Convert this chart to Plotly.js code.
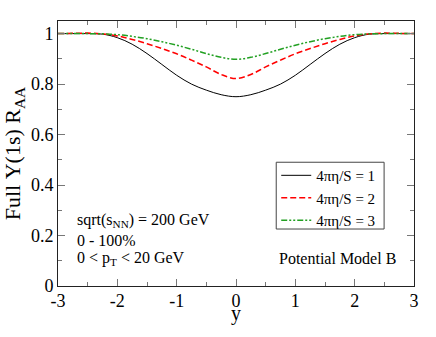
<!DOCTYPE html>
<html>
<head>
<meta charset="utf-8">
<script src="https://cdn.plot.ly/plotly-3.0.1.min.js"></script>
<style>
  html, body { margin: 0; padding: 0; background: #fff; }
  #chart { width: 436px; height: 337px; }
</style>
</head>
<body>
<div id="chart"></div>
<script>
// rapidity values
const rapidity = [-3, -2.75, -2.5, -2.25, -2, -1.75, -1.5, -1.25, -1, -0.75, -0.5, -0.25,
                  0, 0.25, 0.5, 0.75, 1, 1.25, 1.5, 1.75, 2, 2.25, 2.5, 2.75, 3];

// R_AA for 4 pi eta/S = 1, 2, 3
const raaEta1 = [1, 1, 1, 0.998, 0.984, 0.958, 0.921, 0.878, 0.835, 0.8, 0.776, 0.758,
                 0.75, 0.758, 0.776, 0.8, 0.835, 0.878, 0.921, 0.958, 0.984, 0.998, 1, 1, 1];
const raaEta2 = [1, 1.001, 1.002, 0.999, 0.991, 0.977, 0.96, 0.941, 0.92, 0.895, 0.868, 0.838,
                 0.822, 0.838, 0.868, 0.895, 0.92, 0.941, 0.96, 0.977, 0.991, 0.999, 1.002, 1.001, 1];
const raaEta3 = [1, 1, 1, 0.999, 0.996, 0.989, 0.98, 0.968, 0.954, 0.938, 0.921, 0.906,
                 0.898, 0.906, 0.921, 0.938, 0.954, 0.968, 0.98, 0.989, 0.996, 0.999, 1, 1, 1];

const seriesNames = ["4πη/S = 1", "4πη/S = 2", "4πη/S = 3"];

const xTickVals = [-3, -2, -1, 0, 1, 2, 3];
const xTickText = ["-3", "-2", "-1", "0", "1", "2", "3"];

const font = '"Liberation Serif", "Times New Roman", serif';

const traces = [
    {
        x: rapidity, y: raaEta1, name: seriesNames[0],
        mode: "lines", type: "scatter",
        line: { color: "#000000", width: 1, shape: "spline" }
    },
    {
        x: rapidity, y: raaEta2, name: seriesNames[1],
        mode: "lines", type: "scatter",
        line: { color: "#ff0000", width: 1.5, dash: "6px,3px", shape: "spline" }
    },
    {
        x: rapidity, y: raaEta3, name: seriesNames[2],
        mode: "lines", type: "scatter",
        line: { color: "#22a022", width: 1.5, dash: "6px,2px,2px,2px,2px,2px", shape: "spline" }
    }
];

const axisCommon = {
    showgrid: false,
    zeroline: false,
    showline: true,
    linecolor: "#222",
    linewidth: 1,
    mirror: "allticks",
    ticks: "inside",
    ticklen: 7,
    tickcolor: "#777",
    tickwidth: 1,
    tickfont: { family: font, size: 18, color: "#000" }
};

const layout = {
    width: 436,
    height: 337,
    margin: { l: 58, r: 22, t: 21, b: 51 },
    paper_bgcolor: "#fff",
    plot_bgcolor: "#fff",
    font: { family: font, color: "#000" },
    showlegend: true,
    xaxis: Object.assign({}, axisCommon, {
        range: [-3, 3],
        tickvals: xTickVals,
        ticktext: xTickText,
        ticklabelstandoff: -2,
        minor: { dtick: 0.5, ticks: "inside", ticklen: 4, tickcolor: "#777" }
    }),
    yaxis: Object.assign({}, axisCommon, {
        range: [0, 1.05],
        dtick: 0.2,
        minor: { dtick: 0.1, ticks: "inside", ticklen: 4, tickcolor: "#777" },
        title: { text: "Full Υ(1s) R<sub>AA</sub>", font: { family: font, size: 22 }, standoff: 4 }
    }),
    legend: {
        x: 0.613, y: 0.479, xanchor: "left", yanchor: "top",
        bgcolor: "rgba(0,0,0,0)", borderwidth: 0,
        font: { family: font, size: 15 },
        tracegroupgap: 0
    },
    // legend frame
    shapes: [{
        type: "rect", xref: "paper", yref: "paper",
        x0: 0.613, x1: 0.916, y0: 0.215, y1: 0.467,
        line: { color: "#444", width: 1 }
    }],
    annotations: [
        { text: "y", x: 0.5, y: -0.103, xanchor: "center", size: 20 },
        { text: "sqrt(s<sub>NN</sub>) = 200 GeV", x: 0.049, y: 0.249 },
        { text: "0 - 100%", x: 0.049, y: 0.173 },
        { text: "0 < p<sub>T</sub> < 20 GeV", x: 0.049, y: 0.105 },
        { text: "Potential Model B", x: 0.615, y: 0.105 }
    ].map(a => ({
        text: a.text, x: a.x, y: a.y,
        xref: "paper", yref: "paper", xanchor: a.xanchor || "left", yanchor: "middle",
        showarrow: false, font: { family: font, size: a.size || 16, color: "#000" }
    }))
};

Plotly.newPlot("chart", traces, layout, { displayModeBar: false, staticPlot: true });
</script>
</body>
</html>
